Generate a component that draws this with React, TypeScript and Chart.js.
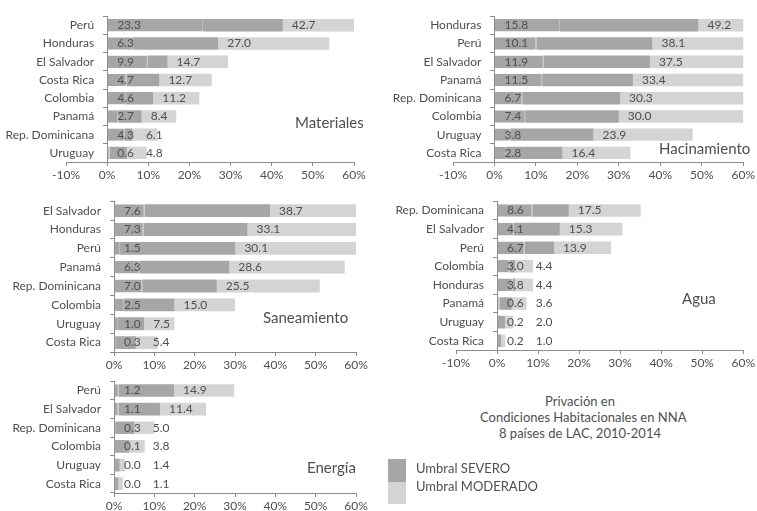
import React, { useEffect, useRef } from 'react';
import { Chart, registerables } from 'chart.js';
Chart.register(...registerables);

// ---------- data ----------
const materialesPaises = ['Perú', 'Honduras', 'El Salvador', 'Costa Rica', 'Colombia', 'Panamá', 'Rep. Dominicana', 'Uruguay'];
const materialesSevero = [23.3, 6.3, 9.9, 4.7, 4.6, 2.7, 4.3, 0.6];
const materialesModerado = [42.7, 27.0, 14.7, 12.7, 11.2, 8.4, 6.1, 4.8];

const hacinamientoPaises = ['Honduras', 'Perú', 'El Salvador', 'Panamá', 'Rep. Dominicana', 'Colombia', 'Uruguay', 'Costa Rica'];
const hacinamientoSevero = [15.8, 10.1, 11.9, 11.5, 6.7, 7.4, 3.8, 2.8];
const hacinamientoModerado = [49.2, 38.1, 37.5, 33.4, 30.3, 30.0, 23.9, 16.4];

const saneamientoPaises = ['El Salvador', 'Honduras', 'Perú', 'Panamá', 'Rep. Dominicana', 'Colombia', 'Uruguay', 'Costa Rica'];
const saneamientoSevero = [7.6, 7.3, 1.5, 6.3, 7.0, 2.5, 1.0, 0.3];
const saneamientoModerado = [38.7, 33.1, 30.1, 28.6, 25.5, 15.0, 7.5, 5.4];

const aguaPaises = ['Rep. Dominicana', 'El Salvador', 'Perú', 'Colombia', 'Honduras', 'Panamá', 'Uruguay', 'Costa Rica'];
const aguaSevero = [8.6, 4.1, 6.7, 3.0, 3.8, 0.6, 0.2, 0.2];
const aguaModerado = [17.5, 15.3, 13.9, 4.4, 4.4, 3.6, 2.0, 1.0];

const energiaPaises = ['Perú', 'El Salvador', 'Rep. Dominicana', 'Colombia', 'Uruguay', 'Costa Rica'];
const energiaSevero = [1.2, 1.1, 0.3, 0.1, 0.0, 0.0];
const energiaModerado = [14.9, 11.4, 5.0, 3.8, 1.4, 1.1];

const tituloLineas = ['Privación en', 'Condiciones Habitacionales en NNA', '8 países de LAC, 2010-2014'];
const leyendaSevero = 'Umbral SEVERO';
const leyendaModerado = 'Umbral MODERADO';

// ---------- styles ----------
const DARK = '#a6a6a8';
const LIGHT = '#d4d4d6';
const SEP = '#bcbcbe';
const AXIS = '#8c8c8c';
const TEXT = '#4f4f4f';
const FONT = 'Lato, "Open Sans", sans-serif';
const AXIS_H = 18;
const Y_LABEL_GAP = 13;

const valueLabels = {
  id: 'valueLabels',
  beforeDraw(chart: any) {
    // keep category labels clear of the axis (axis sits at x = 0)
    const y = chart.scales.y;
    const items = y.getLabelItems();
    if (items && !(items as any)._shifted) {
      items.forEach((it: any) => { it.options.translation[0] -= Y_LABEL_GAP; });
      (items as any)._shifted = true;
    }
  },
  afterDatasetsDraw(chart: any) {
    const { ctx } = chart;
    const x = chart.scales.x;
    const sev = chart.data.datasets[0].data as number[];
    const mod = chart.data.datasets[2].data as number[];
    const meta = chart.getDatasetMeta(0);
    ctx.save();
    ctx.font = `12px ${FONT}`;
    ctx.fillStyle = TEXT;
    ctx.textAlign = 'left';
    ctx.textBaseline = 'middle';
    const x0 = x.getPixelForValue(0);
    meta.data.forEach((bar: any, i: number) => {
      const y = bar.y;
      const s = sev[i].toFixed(1);
      const m = mod[i].toFixed(1);
      const sx = x0 + 10;
      ctx.fillText(s, sx, y);
      const sw = ctx.measureText(s).width;
      const mx = Math.max(x.getPixelForValue(mod[i]) + 9, sx + sw + 12);
      ctx.fillText(m, mx, y);
    });
    ctx.restore();
  },
};

type Box = { x: number; y: number; w: number; h: number };
type Area = { L: number; T: number; R: number; B: number };

function Panel(props: { cats: string[]; sev: number[]; mod: number[]; xMin: number; box: Box; area: Area }) {
  const { cats, sev, mod, xMin, box, area } = props;
  const ref = useRef<HTMLCanvasElement>(null);
  useEffect(() => {
    const mid = mod.map((m, i) => +(m - sev[i]).toFixed(2));
    const chart = new Chart(ref.current as HTMLCanvasElement, {
      type: 'bar',
      data: {
        labels: cats,
        datasets: [
          { data: sev, backgroundColor: DARK, borderColor: SEP, borderWidth: { top: 0, left: 0, bottom: 0, right: 1 } as any, borderSkipped: false },
          { data: mid, backgroundColor: DARK, borderWidth: 0 },
          { data: mod, backgroundColor: LIGHT, borderWidth: 0 },
        ],
      },
      options: {
        indexAxis: 'y',
        animation: false,
        responsive: false,
        maintainAspectRatio: false,
        layout: {
          padding: {
            left: area.L - box.x,
            right: box.x + box.w - area.R,
            top: area.T - box.y,
            bottom: box.y + box.h - area.B - AXIS_H,
          },
        },
        plugins: { legend: { display: false }, tooltip: { enabled: false } },
        datasets: { bar: { barPercentage: 0.68, categoryPercentage: 1 } },
        scales: {
          x: {
            type: 'linear',
            stacked: true,
            min: xMin,
            max: 60,
            position: 'bottom',
            afterFit: (s: any) => { s.height = AXIS_H; },
            ticks: {
              stepSize: 10,
              autoSkip: false,
              maxRotation: 0,
              padding: 2,
              color: TEXT,
              font: { family: FONT, size: 12 },
              callback: (v: any) => `${v}%`,
            },
            grid: { display: true, drawOnChartArea: false, drawTicks: true, tickLength: 4, color: AXIS },
            border: { display: true, color: AXIS },
          },
          y: {
            type: 'category',
            stacked: true,
            position: { x: 0 } as any,
            ticks: { padding: 9, color: TEXT, font: { family: FONT, size: 12 }, autoSkip: false },
            grid: { display: true, offset: true, drawOnChartArea: false, drawTicks: true, tickLength: 4, color: AXIS },
            border: { display: true, color: AXIS },
          },
        },
      } as any,
      plugins: [valueLabels],
    });
    return () => chart.destroy();
  }, []);
  return (
    <canvas
      ref={ref}
      width={box.w}
      height={box.h}
      style={{ position: 'absolute', left: box.x, top: box.y, width: box.w, height: box.h }}
    />
  );
}

function Label(props: { text: string; left: number; cy: number; size: number }) {
  const lh = props.size + 4;
  return (
    <div
      style={{
        position: 'absolute',
        left: props.left,
        top: props.cy - lh / 2,
        lineHeight: `${lh}px`,
        fontSize: props.size,
        fontFamily: FONT,
        color: TEXT,
        whiteSpace: 'nowrap',
      }}
    >
      {props.text}
    </div>
  );
}

export default function App() {
  return (
    <div style={{ position: 'absolute', left: 0, top: 0, width: 757, height: 511, background: '#fff', overflow: 'hidden' }}>
      <Panel cats={materialesPaises} sev={materialesSevero} mod={materialesModerado} xMin={-10}
        box={{ x: 0, y: 0, w: 378, h: 185 }} area={{ L: 66, T: 9, R: 354, B: 162 }} />
      <Panel cats={hacinamientoPaises} sev={hacinamientoSevero} mod={hacinamientoModerado} xMin={-10}
        box={{ x: 379, y: 0, w: 378, h: 185 }} area={{ L: 453, T: 9, R: 744, B: 162 }} />
      <Panel cats={saneamientoPaises} sev={saneamientoSevero} mod={saneamientoModerado} xMin={0}
        box={{ x: 0, y: 185, w: 378, h: 190 }} area={{ L: 114, T: 198, R: 356, B: 352 }} />
      <Panel cats={aguaPaises} sev={aguaSevero} mod={aguaModerado} xMin={-10}
        box={{ x: 379, y: 185, w: 378, h: 190 }} area={{ L: 456, T: 197, R: 747, B: 350 }} />
      <Panel cats={energiaPaises} sev={energiaSevero} mod={energiaModerado} xMin={0}
        box={{ x: 0, y: 365, w: 378, h: 146 }} area={{ L: 114, T: 376, R: 356, B: 493 }} />

      <Label text="Materiales" left={295} cy={122} size={15} />
      <Label text="Hacinamiento" left={659} cy={148} size={15} />
      <Label text="Saneamiento" left={263} cy={317} size={15} />
      <Label text="Agua" left={682} cy={298} size={15} />
      <Label text="Energía" left={307} cy={467} size={15} />

      <div style={{ position: 'absolute', left: 480, width: 200, top: 393, textAlign: 'center', fontFamily: FONT, fontSize: 13, lineHeight: '16px', color: TEXT }}>
        {tituloLineas.map((t) => (<div key={t} style={{ whiteSpace: 'nowrap' }}>{t}</div>))}
      </div>

      <div style={{ position: 'absolute', left: 388, top: 459, width: 18, height: 23, background: DARK }} />
      <div style={{ position: 'absolute', left: 388, top: 482, width: 18, height: 22, background: LIGHT }} />
      <Label text={leyendaSevero} left={416} cy={468} size={13} />
      <Label text={leyendaModerado} left={416} cy={486} size={13} />
    </div>
  );
}
